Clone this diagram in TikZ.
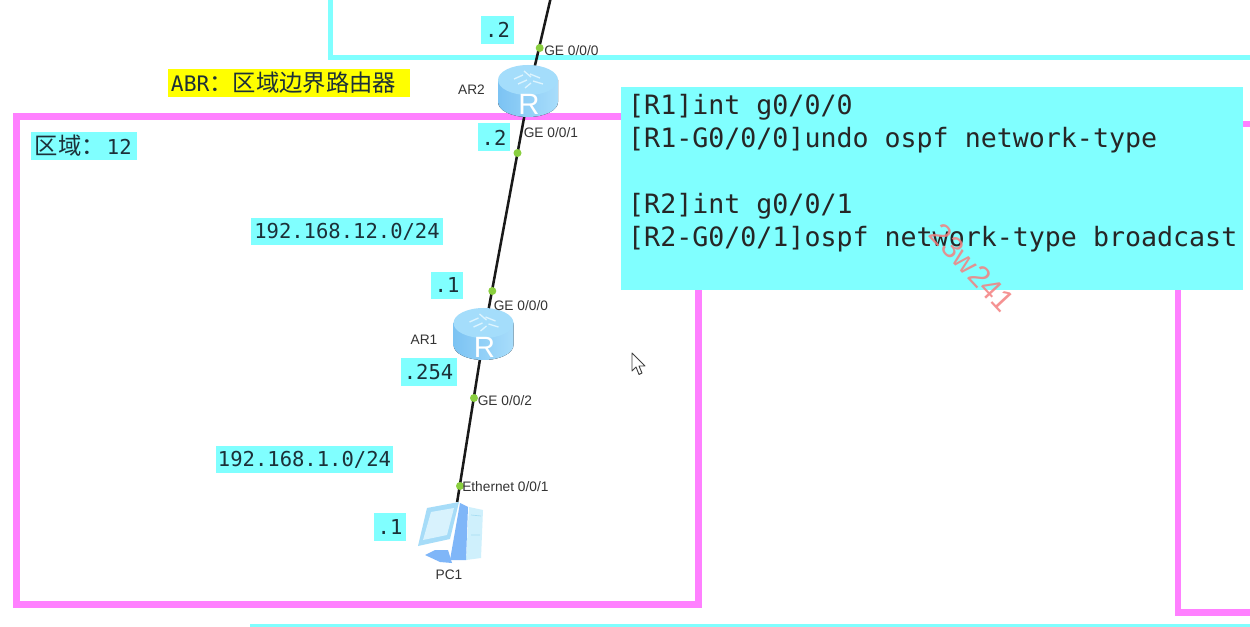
\documentclass[tikz,border=0pt]{standalone}
\usepackage{fontspec}
\setmainfont{Liberation Sans}
\newfontfamily\cjkfont{Noto Sans CJK SC}
\newfontfamily\monofont{DejaVu Sans Mono}
\definecolor{hlcyan}{HTML}{80FFFF}
\definecolor{hlpink}{HTML}{FF80FF}
\definecolor{hlyellow}{HTML}{FFFF00}
\definecolor{portgreen}{HTML}{8ACF3F}
\definecolor{textdark}{HTML}{1C3038}
\definecolor{labelgray}{HTML}{333333}
\definecolor{wmark}{HTML}{F47F7F}
\definecolor{rtop}{HTML}{A4DDFB}
\definecolor{rsidea}{HTML}{7CC3F3}
\definecolor{rsideb}{HTML}{A8DDFB}
\definecolor{rmark}{HTML}{DDF4FE}
\definecolor{pcframe}{HTML}{A6DCF8}
\definecolor{pcscreen}{HTML}{D8F2FD}
\definecolor{pcblue}{HTML}{7FB6F8}
\definecolor{pctower}{HTML}{CFF0FC}
\definecolor{pcline}{HTML}{A5DDF3}
\tikzset{
  framepink/.style={draw=hlpink,line width=4.9pt},
  framecyan/.style={draw=hlcyan,line width=3.9pt},
  link/.style={draw=black!90,line width=1.9pt},
  port/.style={circle,fill=portgreen,inner sep=0pt,minimum size=6pt},
  tag/.style={fill=hlcyan,inner sep=0pt,text=textdark,font=\monofont\fontsize{15.4}{18}\selectfont},
  devlabel/.style={inner sep=0pt,text=labelgray,font=\fontsize{10.3}{12}\selectfont},
  devhook/.style={inner sep=0pt,minimum size=1pt},
  codebox/.style={fill=hlcyan,inner sep=0pt,anchor=north west,align=left,text width=466.5pt,text=black!85,font=\monofont\fontsize{19.97}{24.75}\selectfont},
}
\newcommand{\routericon}[1]{%
  \begin{scope}[shift={(#1)}]
    \fill[left color=rsidea,right color=rsideb]
      (-30,-11) -- (-30,11) arc[start angle=180,end angle=0,x radius=30,y radius=15] -- (30,-11) -- cycle;
    \fill[rtop] (0,-11) ellipse[x radius=30,y radius=15];
    \draw[rmark,line width=1pt]
      (-14,-12) -- (-5,-16) (-10,-7) -- (-1,-11) (2,-17) -- (12,-13) (5,-10) -- (15,-7)
      (-4,-20) -- (3,-14) (3,-8) -- (-3,-3);
    \node[inner sep=0pt,text=white,font=\fontsize{22}{22}\selectfont] at (1,13) {R};
  \end{scope}}
\begin{document}
\begin{tikzpicture}[x=0.75pt,y=-0.75pt]
\useasboundingbox (0,0) rectangle (1250,627);
\clip (0,0) rectangle (1250,627);
\fill[white] (0,0) rectangle (1250,627);
% area frames
\draw[framecyan] (330.5,-5) -- (330.5,57.5) -- (1255,57.5);
\draw[framecyan] (250,627) -- (1255,627);
\draw[framepink] (16.5,116.5) rectangle (698.5,604.5);
\draw[framepink] (1178,280) -- (1178,612.5) -- (1255,612.5);
\draw[framepink] (1235,124) -- (1255,124);
% devices anchors
\coordinate (topend) at (550.5,-1);
\node[devhook] (AR2) at (529,91) {};
\node[devhook] (AR1) at (484,334) {};
\node[devhook] (PC1) at (457,503) {};
% links
\draw[link] (topend) -- (AR2);
\draw[link] (AR2) -- (AR1);
\draw[link] (AR1) -- (PC1);
% ports
\node[port] (p20) at (539.7,48) {};
\node[port] (p21) at (517.5,153) {};
\node[port] (p10) at (492.3,291) {};
\node[port] (p12) at (474,398) {};
\node[port] (pc0) at (460,486) {};
% device icons
\routericon{528,91}
\routericon{483.5,334}
% PC icon
\fill[pctower] (469,507) -- (483,510) -- (481,558) -- (466,560) -- cycle;
\draw[pcline,line width=.5pt] (471,515) -- (481,516) (471,535) -- (480,535);
\fill[pcblue] (460,503) -- (468,507) -- (466,560) -- (450,560) -- cycle;
\fill[pcblue] (425,555) -- (435,550) -- (448,550) -- (452,563) -- (440,562) -- cycle;
\fill[pcframe] (427,508) -- (459,502) -- (450,539) -- (418,546) -- cycle;
\fill[pcscreen] (431,512) -- (454,508) -- (447,535) -- (423,540) -- cycle;
% device labels
\node[devlabel,anchor=west] (l20) at (544,50.5) {GE 0/0/0};
\node[devlabel,anchor=west] (l21) at (523.5,133) {GE 0/0/1};
\node[devlabel,anchor=west] (l10) at (493.5,305.5) {GE 0/0/0};
\node[devlabel,anchor=west] (l12) at (477.5,400.5) {GE 0/0/2};
\node[devlabel,anchor=west] (lpc0) at (462,486.5) {Ethernet 0/0/1};
\node[devlabel] (nAR2) at (471.5,89.5) {AR2};
\node[devlabel] (nAR1) at (424,340) {AR1};
\node[devlabel] (nPC1) at (449,575) {PC1};
% address tags
\node[tag,minimum width=24.75pt,minimum height=21pt] (t1) at (497.5,30) {.2};
\node[tag,minimum width=24pt,minimum height=21pt] (t2) at (494,137.5) {.2};
\node[tag,minimum width=24pt,minimum height=20.5pt] (t3) at (447,285.5) {.1};
\node[tag,minimum width=42pt,minimum height=21pt] (t4) at (428.5,372) {.254};
\node[tag,minimum width=24pt,minimum height=21pt] (t5) at (390,527) {.1};
\node[tag,minimum width=144pt,minimum height=20.5pt] (t6) at (347,231.5) {192.168.12.0/24};
\node[tag,minimum width=133pt,minimum height=20.5pt] (t7) at (304.5,459.5) {192.168.1.0/24};
\node[tag,minimum height=21pt] (t8) at (84,146)
  {\makebox[79.5pt][l]{\hspace*{3pt}{\cjkfont\fontsize{17.5}{18}\selectfont 区域：}\hspace*{1.5pt}12}};
\node[tag,fill=hlyellow,minimum height=21pt,font=\monofont\fontsize{16}{18}\selectfont] (abr) at (289,83)
  {\makebox[181.5pt][l]{\hspace*{2.2pt}ABR{\cjkfont\fontsize{17.5}{18}\selectfont ：区域边界路由器}}};
% config box
\node[codebox] (cfg) at (621,87) {\spaceskip=12.02pt\relax
\rule{0pt}{20.45pt}\hspace*{5.2pt}[R1]int g0/0/0\\
\hspace*{5.2pt}[R1-G0/0/0]undo ospf network-type\\
\strut\\
\hspace*{5.2pt}[R2]int g0/0/1\\
\hspace*{5.2pt}[R2-G0/0/1]ospf network-type broadcast\\
\rule[-8.2pt]{0pt}{17pt}};
% mouse cursor
\draw[fill=white,draw=black!75,line width=.7pt,line join=round]
  (632,353) -- (632,371) -- (636,367) -- (639,374.5) -- (642,373) -- (639,366) -- (645,366) -- cycle;
% watermark
\node[inner sep=0pt,rotate=-47,text=wmark,opacity=.85,font=\fontsize{23}{23}\selectfont] (wm) at (972,268) {23w241};
\end{tikzpicture}
\end{document}
